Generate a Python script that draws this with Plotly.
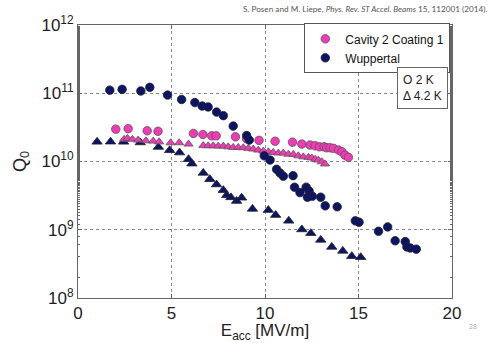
import plotly.graph_objects as go

# Wuppertal, 2 K (navy circles)
wup2_x = [1.70, 2.36, 3.36, 3.84, 4.79, 5.54, 6.25, 6.64, 6.96, 7.41, 7.77, 8.30, 9.02, 9.16,
          9.96, 10.27, 10.62, 10.80, 10.98, 11.50, 11.58, 11.87, 12.20, 12.36, 12.27, 12.53,
          12.98, 13.22, 13.86, 14.83, 15.03, 16.07, 16.56, 16.96, 17.50, 17.59, 17.77, 18.09]
wup2_q = [1.11e11, 1.14e11, 1.08e11, 1.22e11, 9.4e10, 8.1e10, 7.3e10, 6.5e10, 6.3e10, 5.3e10,
          4.7e10, 3.3e10, 2.4e10, 2.06e10, 1.21e10, 1.05e10, 7.7e9, 6.8e9, 6.1e9, 6.2e9, 4.2e9,
          3.5e9, 4.2e9, 3.7e9, 3.0e9, 3.1e9, 3.0e9, 2.24e9, 2.17e9, 1.35e9, 1.29e9, 9.5e8,
          1.10e9, 6.9e8, 6.7e8, 5.6e8, 5.4e8, 5.2e8]

# Wuppertal, 4.2 K (navy triangles)
wup4_x = [1.02, 1.74, 2.44, 3.33, 4.30, 4.90, 5.43, 5.91, 6.09, 6.70, 7.05, 7.41, 7.77, 7.95,
          8.18, 8.48, 8.75, 9.33, 10.18, 10.57, 11.27, 11.97, 12.45, 12.98, 13.57, 14.16, 14.64, 15.12]
wup4_q = [1.94e10, 1.95e10, 1.94e10, 1.90e10, 1.63e10, 1.46e10, 1.35e10, 1.08e10, 9.3e9, 6.8e9,
          5.5e9, 4.6e9, 3.8e9, 3.2e9, 2.98e9, 2.63e9, 2.94e9, 2.02e9, 1.94e9, 1.64e9, 1.35e9,
          1.01e9, 8.9e8, 7.1e8, 5.6e8, 4.9e8, 4.1e8, 3.95e8]

# Cavity 2 Coating 1, 2 K (pink circles)
cav2_x = [2.02, 2.68, 3.70, 4.28, 6.17, 6.68, 7.15, 7.39, 8.42, 9.02, 9.68, 10.54, 11.47, 11.97,
          12.41, 12.68, 12.91, 13.16, 13.30, 13.48, 13.66, 13.93, 14.11, 14.28, 14.46]
cav2_q = [2.98e10, 3.03e10, 2.82e10, 2.77e10, 2.58e10, 2.49e10, 2.38e10, 2.38e10, 2.30e10,
          2.15e10, 2.04e10, 1.98e10, 1.92e10, 1.80e10, 1.74e10, 1.70e10, 1.64e10, 1.64e10,
          1.59e10, 1.59e10, 1.56e10, 1.47e10, 1.39e10, 1.24e10, 1.15e10]

# Cavity 2 Coating 1, 4.2 K (pink triangles)
cav4_x = [2.46, 2.65, 2.91, 3.21, 3.63, 4.02, 4.34, 4.95, 5.41, 5.91, 6.70, 6.96, 7.23, 7.50,
          7.77, 8.03, 8.30, 8.57, 8.84, 9.11, 9.37, 9.64, 9.91, 10.18, 10.44, 10.71, 10.98,
          11.25, 11.52, 11.78, 12.05, 12.32, 12.50, 12.68, 12.85, 13.04, 13.21]
cav4_q = [2.11e10, 2.18e10, 2.11e10, 2.06e10, 2.01e10, 1.99e10, 1.94e10, 1.88e10, 1.88e10,
          1.80e10, 1.71e10, 1.70e10, 1.70e10, 1.68e10, 1.68e10, 1.64e10, 1.61e10, 1.61e10,
          1.59e10, 1.56e10, 1.52e10, 1.47e10, 1.42e10, 1.39e10, 1.36e10, 1.33e10, 1.33e10,
          1.28e10, 1.27e10, 1.21e10, 1.17e10, 1.15e10, 1.13e10, 1.08e10, 1.05e10, 9.9e9, 9.2e9]

x_ticks = [0, 5, 10, 15, 20]
y_tickvals = [1e8, 1e9, 1e10, 1e11, 1e12]
y_ticktext = ["10<sup>8</sup>", "10<sup>9</sup>", "10<sup>10</sup>", "10<sup>11</sup>", "10<sup>12</sup>"]

NAVY = "#0b1466"
PINK = "#f23ab6"
FONT = "Liberation Sans, Arial, sans-serif"

fig = go.Figure()
fig.add_trace(go.Scatter(x=wup4_x, y=wup4_q, mode="markers", showlegend=False,
                         marker=dict(symbol="triangle-up", size=9, color=NAVY,
                                     line=dict(color="#222", width=0.8))))
fig.add_trace(go.Scatter(x=cav4_x, y=cav4_q, mode="markers", showlegend=False,
                         marker=dict(symbol="triangle-up", size=8, color=PINK,
                                     line=dict(color="#555", width=0.8))))
fig.add_trace(go.Scatter(x=cav2_x, y=cav2_q, mode="markers", name="Cavity 2 Coating 1",
                         legendrank=1,
                         marker=dict(symbol="circle", size=8.5, color=PINK,
                                     line=dict(color="#555", width=0.8))))
fig.add_trace(go.Scatter(x=wup2_x, y=wup2_q, mode="markers", name="Wuppertal",
                         legendrank=2,
                         marker=dict(symbol="circle", size=8.5, color=NAVY,
                                     line=dict(color="#222", width=0.8))))

axis_common = dict(showline=True, linecolor="#666", linewidth=1, mirror="allticks",
                   ticks="inside", ticklen=4, tickcolor="#666", automargin=False,
                   showgrid=True, gridcolor="#888", griddash="dot", gridwidth=1,
                   zeroline=False, tickfont=dict(family=FONT, size=17, color="#222"))

fig.update_xaxes(range=[0, 20], tickvals=x_ticks, **axis_common,
                 title=dict(text="E<sub>acc</sub> [MV/m]", font=dict(family=FONT, size=17, color="#222"),
                            standoff=0))
fig.update_yaxes(type="log", range=[8, 12], tickvals=y_tickvals, ticktext=y_ticktext,
                 minor=dict(ticks="inside", ticklen=2, tickcolor="#666", showgrid=False),
                 **axis_common,
                 title=dict(text="Q<sub>0</sub>", font=dict(family=FONT, size=18, color="#222"),
                            standoff=10))

fig.update_layout(
    width=492, height=343,
    margin=dict(l=78, r=40, t=25, b=45),
    paper_bgcolor="white", plot_bgcolor="white",
    showlegend=True,
    legend=dict(x=0.9955, y=1.006, xanchor="right", yanchor="top",
                bgcolor="white", bordercolor="#555", borderwidth=1,
                font=dict(family=FONT, size=12, color="#111"),
                itemwidth=30, tracegroupgap=0),
)

fig.add_annotation(xref="paper", yref="paper", x=0.99, y=0.847, xanchor="right", yanchor="top",
                   text="O 2 K<br>Δ 4.2 K", showarrow=False, align="left",
                   font=dict(family=FONT, size=12, color="#222"),
                   bordercolor="#666", borderwidth=1, borderpad=5, bgcolor="white")

fig.add_annotation(xref="paper", yref="paper", x=0.436, y=1.0586, xanchor="left", yanchor="middle",
                   text="S. Posen and M. Liepe, <i>Phys. Rev. ST Accel. Beams</i> 15, 112001 (2014).",
                   showarrow=False, font=dict(family="Lato, sans-serif", size=8.2, color="#555"))

fig.add_annotation(xref="paper", yref="paper", x=1.055, y=-0.103, xanchor="center", yanchor="middle",
                   text="28", showarrow=False, font=dict(family=FONT, size=7, color="#aaa"))

fig.write_html("out.html", config={"displayModeBar": False},
               post_script="document.body.style.margin='0';")
